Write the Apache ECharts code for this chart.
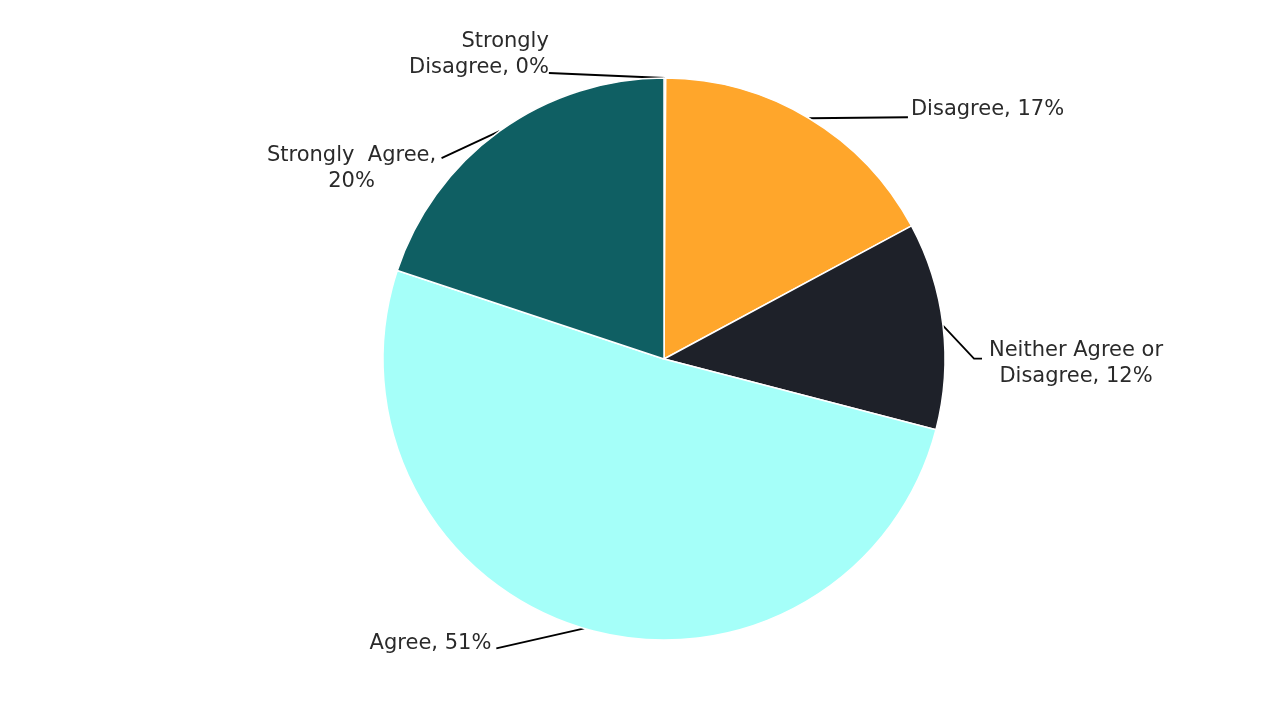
<!DOCTYPE html>
<html>
<head>
<meta charset="utf-8">
<script src="https://cdn.jsdelivr.net/npm/echarts@6/dist/echarts.min.js"></script>
<style>
    html, body { margin: 0; padding: 0; background: #fff; }
    #chartPie { width: 1280px; height: 720px; }
</style>
</head>
<body>
<div id="chartPie"></div>
<script>
    // answers, clockwise from 12 o'clock
    var categories = ['Strongly Disagree', 'Disagree', 'Neither Agree or Disagree', 'Agree', 'Strongly Agree'];
    var shares = [0.1, 17.05, 11.9, 51.05, 19.9];
    var labelTexts = ['Strongly\nDisagree, 0%', 'Disagree, 17%', 'Neither Agree or\nDisagree, 12%', 'Agree, 51%', 'Strongly  Agree,\n20%'];
    var colors = ['#EF553B', '#FFA62B', '#1E2129', '#A5FFF9', '#0F5F63'];

    var pieData = [];
    categories.map(function (name, i) {
        pieData.push({
            name: name,
            value: shares[i],
            itemStyle: { color: colors[i] }
        });
    });

    // label placement relative to the slice edge point (bend, end, text, align)
    var labelPlace = [
        { bend: null,     end: [-116, -5], text: [-116, -23], align: 'right' },
        { bend: null,     end: [99, -1],   text: [102, -9],   align: 'left' },
        { bend: [31, 33], end: [39, 33],   text: [133, 38],   align: 'center' },
        { bend: null,     end: [-88, 20],  text: [-93, 15],   align: 'right' },
        { bend: null,     end: [-58, 27],  text: [-148, 37],  align: 'center' }
    ];

    var chartPie = echarts.init(document.getElementById('chartPie'));
    chartPie.setOption({
        animation: false,
        textStyle: { fontFamily: 'DejaVu Sans' },
        series: [
            {
                name: 'answers',
                type: 'pie',
                center: [664, 359],
                radius: 281,
                startAngle: 90,
                clockwise: true,
                data: pieData,
                itemStyle: {
                    borderColor: '#fff',
                    borderWidth: 1.5
                },
                label: {
                    show: true,
                    position: 'outside',
                    color: '#2a2a2a',
                    fontSize: 21,
                    lineHeight: 26,
                    formatter: function (p) {
                        return labelTexts[p.dataIndex];
                    }
                },
                labelLine: {
                    show: true,
                    lineStyle: { color: '#000', width: 1.8 }
                },
                labelLayout: function (params) {
                    var pl = labelPlace[params.dataIndex];
                    var p0 = params.labelLinePoints[0];
                    var pts = [p0];
                    if (pl.bend) {
                        pts.push([p0[0] + pl.bend[0], p0[1] + pl.bend[1]]);
                    } else {
                        pts.push([p0[0] + pl.end[0] / 2, p0[1] + pl.end[1] / 2]);
                    }
                    pts.push([p0[0] + pl.end[0], p0[1] + pl.end[1]]);
                    return {
                        x: p0[0] + pl.text[0],
                        y: p0[1] + pl.text[1],
                        align: pl.align,
                        verticalAlign: 'middle',
                        labelLinePoints: pts
                    };
                }
            }
        ]
    });
</script>
</body>
</html>
